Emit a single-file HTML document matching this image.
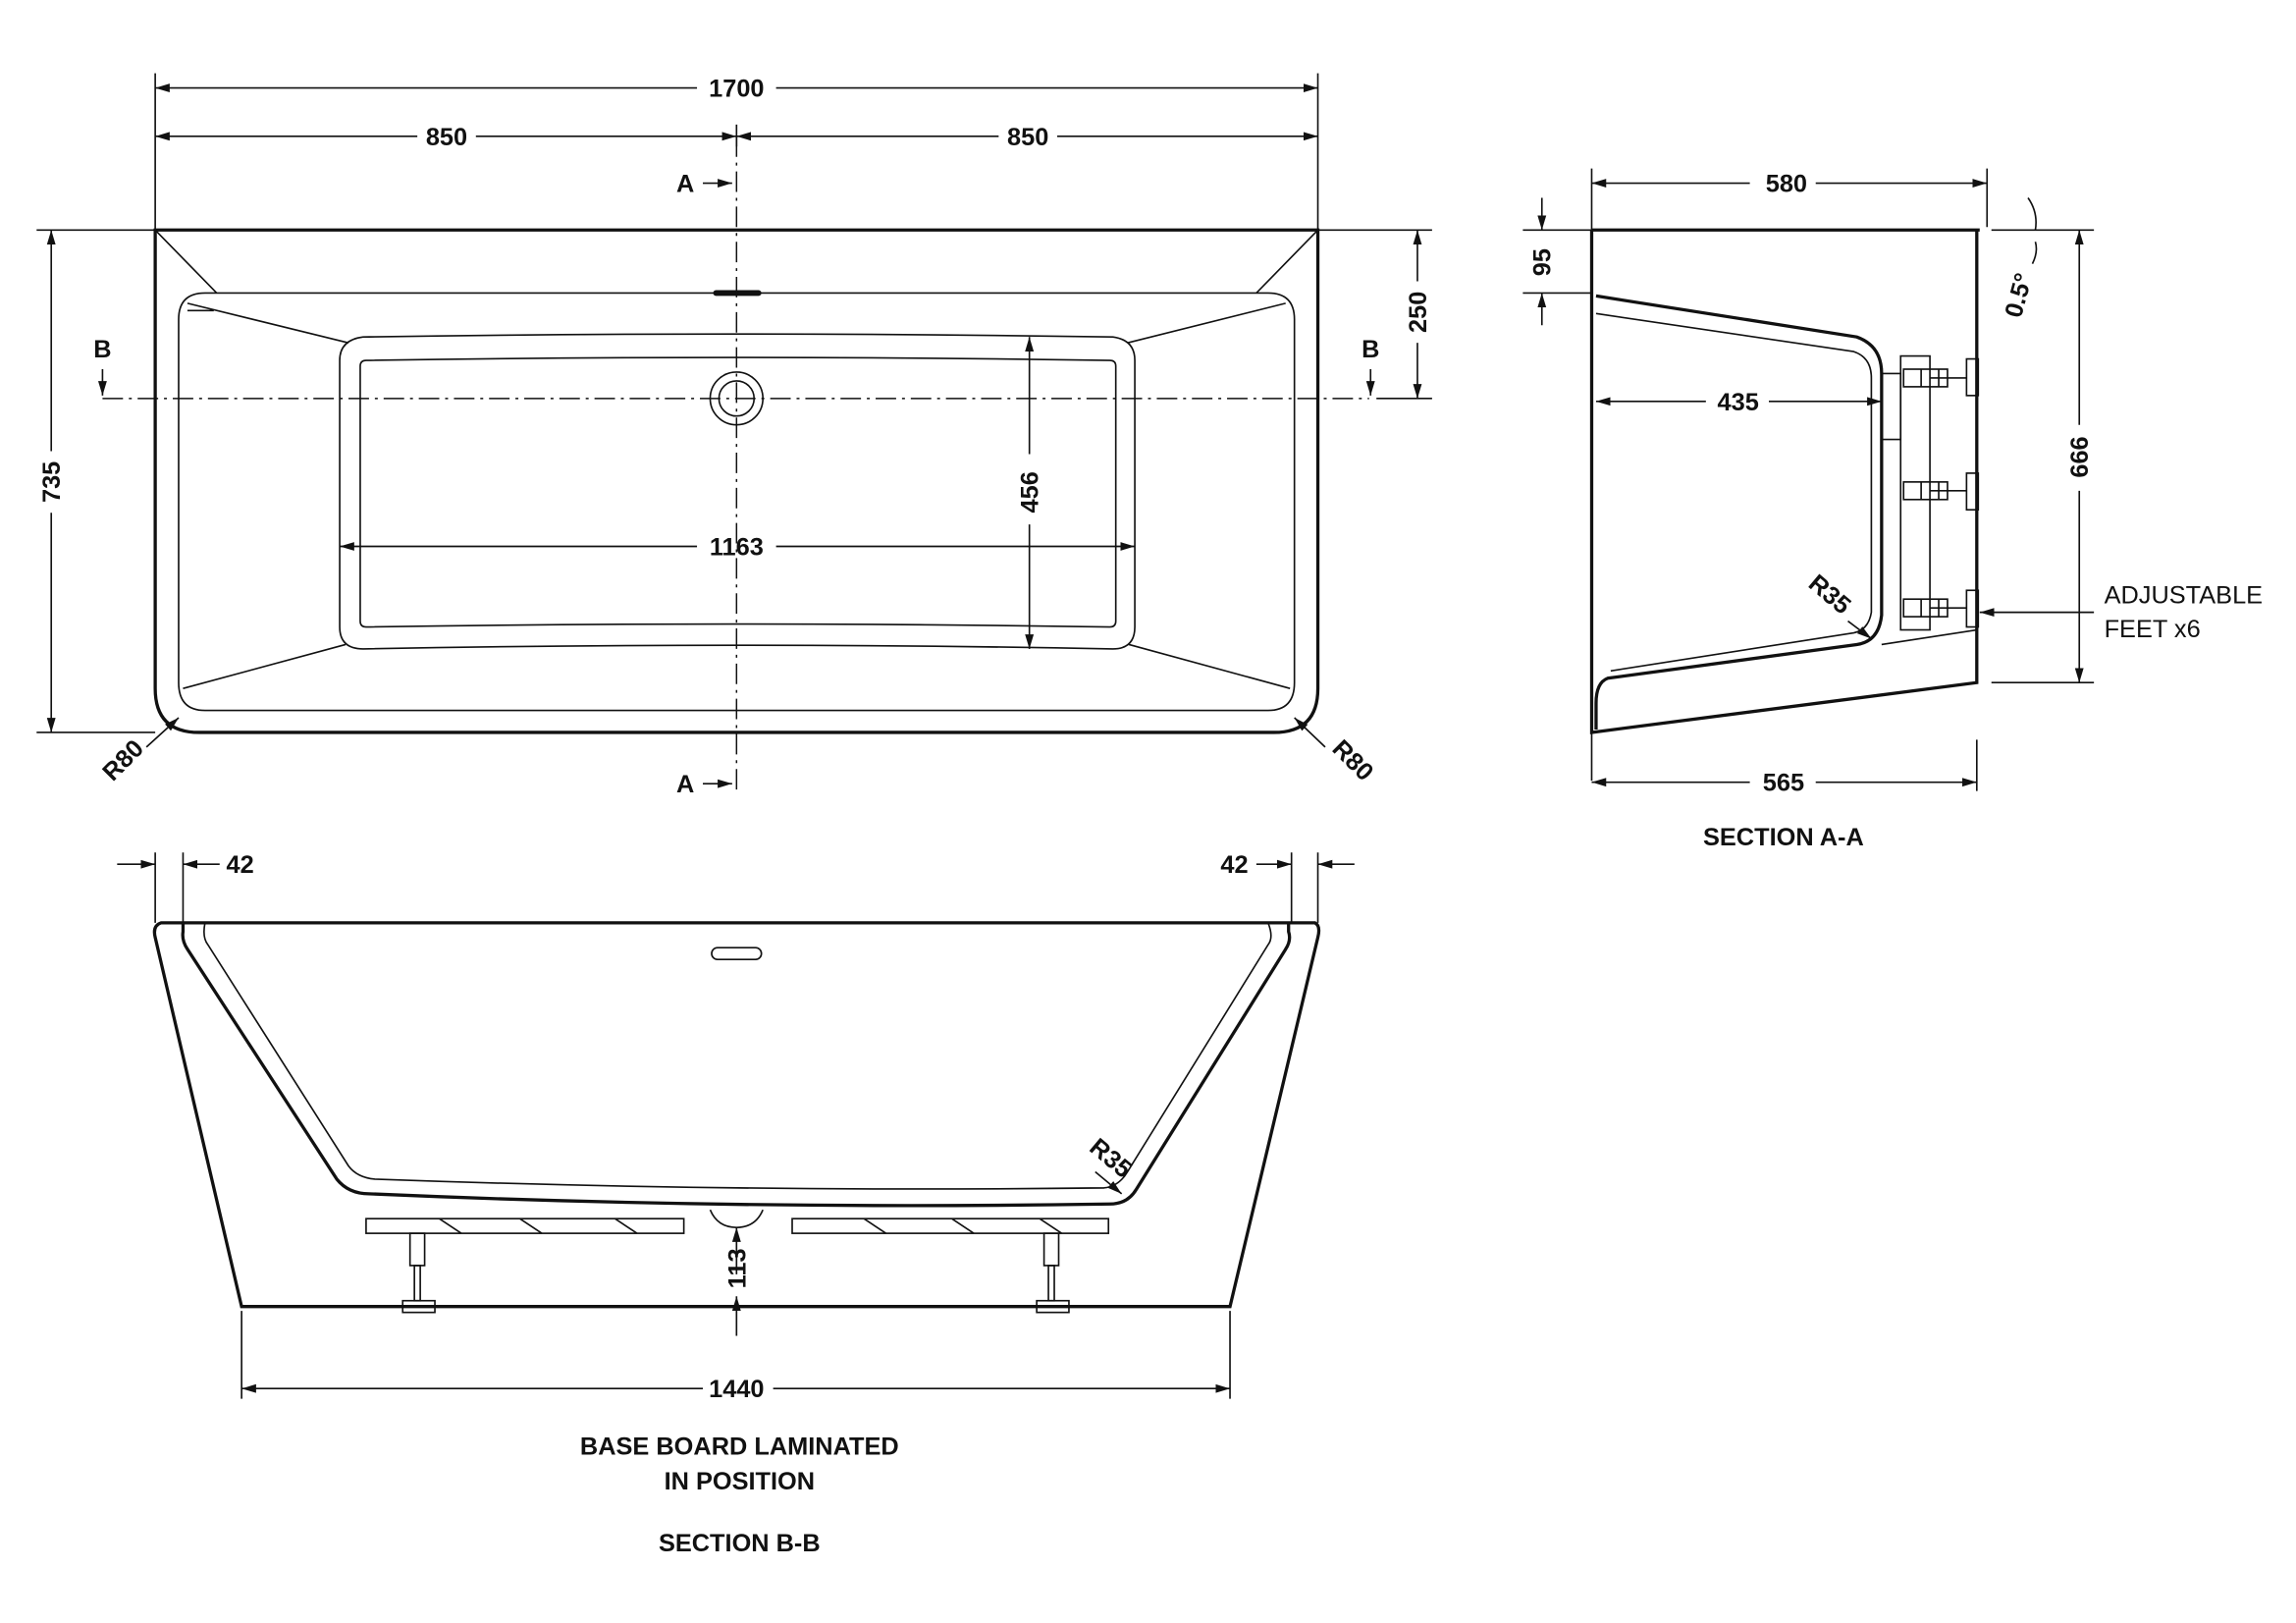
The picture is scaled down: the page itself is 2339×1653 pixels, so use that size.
<!DOCTYPE html>
<html><head><meta charset="utf-8"><style>
html,body{margin:0;padding:0;background:#fff;}
svg{display:block}
text{font-family:"Liberation Sans",sans-serif;font-weight:bold;font-size:17px;fill:#111}
.l{stroke:#111;fill:none;stroke-width:1.1}
.t{stroke:#111;fill:none;stroke-width:2.2}
.c{stroke:#111;fill:none;stroke-width:1;stroke-dasharray:14 4 2 4}
</style></head><body>
<svg width="2339" height="1653" viewBox="0 0 1568 1108" xmlns="http://www.w3.org/2000/svg">
<defs>
<marker id="a" viewBox="0 0 10 10" refX="10" refY="5" markerWidth="9" markerHeight="9" orient="auto-start-reverse"><path d="M0,2 L10,5 L0,8 Z" fill="#111"/></marker>
</defs>
<rect width="1568" height="1108" fill="#fff"/>

<!-- PLAN VIEW -->
<path class="t" d="M106,157 H900 V470 Q900,500 870,500 H136 Q106,500 106,470 Z"/>
<path class="l" d="M140,200 H866 Q884,200 884,218 V466 Q884,485 866,485 H140 Q122,485 122,466 V218 Q122,200 140,200 Z"/>
<path class="l" d="M106,157 L148,200 M900,157 L858,200"/>
<path class="l" d="M248,230 Q503,226 760,230 Q775,232 775,246 V428 Q775,443 760,443 Q503,438 248,443 Q232,443 232,428 V246 Q232,232 248,230 Z"/>
<path class="l" d="M250,246 Q503,242 758,246 Q762,246 762,250 V424 Q762,428 758,428 Q503,424 250,428 Q246,428 246,424 V250 Q246,246 250,246 Z"/>
<path class="l" d="M128,207 L238,234 M878,207 L770,234 M125,470 L236,440 M881,470 L771,440 M128,212 L146,212"/>
<circle class="l" cx="503" cy="272" r="18"/><circle class="l" cx="503" cy="272" r="12"/>
<rect x="487" y="198" width="33" height="4" rx="2" fill="#111"/>
<path class="c" d="M70,272 H935 M503,93 V540"/>
<path class="l" d="M106,50 V157 M900,50 V157 M503,85 V100"/>
<line class="l" x1="106" y1="60" x2="476" y2="60" marker-start="url(#a)"/><line class="l" x1="530" y1="60" x2="900" y2="60" marker-end="url(#a)"/>
<text x="503" y="66" text-anchor="middle">1700</text>
<line class="l" x1="106" y1="93" x2="285" y2="93" marker-start="url(#a)"/><line class="l" x1="325" y1="93" x2="503" y2="93" marker-end="url(#a)"/>
<line class="l" x1="503" y1="93" x2="682" y2="93" marker-start="url(#a)"/><line class="l" x1="722" y1="93" x2="900" y2="93" marker-end="url(#a)"/>
<text x="305" y="99" text-anchor="middle">850</text><text x="702" y="99" text-anchor="middle">850</text>
<path class="l" d="M25,157 H106 M25,500 H106"/>
<line class="l" x1="35" y1="157" x2="35" y2="308" marker-start="url(#a)"/><line class="l" x1="35" y1="350" x2="35" y2="500" marker-end="url(#a)"/>
<text transform="translate(41,329) rotate(-90)" text-anchor="middle">735</text>
<path class="l" d="M900,157 H978 M940,272 H978"/>
<line class="l" x1="968" y1="157" x2="968" y2="192" marker-start="url(#a)"/><line class="l" x1="968" y1="234" x2="968" y2="272" marker-end="url(#a)"/>
<text transform="translate(974,213) rotate(-90)" text-anchor="middle">250</text>
<line class="l" x1="703" y1="230" x2="703" y2="310" marker-start="url(#a)"/><line class="l" x1="703" y1="358" x2="703" y2="443" marker-end="url(#a)"/>
<text transform="translate(709,336) rotate(-90)" text-anchor="middle">456</text>
<line class="l" x1="232" y1="373" x2="476" y2="373" marker-start="url(#a)"/><line class="l" x1="530" y1="373" x2="775" y2="373" marker-end="url(#a)"/>
<text x="503" y="379" text-anchor="middle">1163</text>
<text transform="translate(88,523) rotate(-45)" text-anchor="middle">R80</text>
<line class="l" x1="100" y1="510" x2="122" y2="490" marker-end="url(#a)"/>
<text transform="translate(920,523) rotate(45)" text-anchor="middle">R80</text>
<line class="l" x1="905" y1="510" x2="884" y2="490" marker-end="url(#a)"/>
<text x="468" y="131" text-anchor="middle">A</text><line class="l" x1="480" y1="125" x2="500" y2="125" marker-end="url(#a)"/>
<text x="468" y="541" text-anchor="middle">A</text><line class="l" x1="480" y1="535" x2="500" y2="535" marker-end="url(#a)"/>
<text x="70" y="244" text-anchor="middle">B</text><line class="l" x1="70" y1="252" x2="70" y2="270" marker-end="url(#a)"/>
<text x="936" y="244" text-anchor="middle">B</text><line class="l" x1="936" y1="252" x2="936" y2="270" marker-end="url(#a)"/>

<!-- SECTION A-A -->
<path class="t" d="M1087,157 H1352 M1087,157 V500 L1350,466 V157"/>
<path class="t" d="M1090,202 L1268,230 Q1285,236 1285,255 V420 Q1283,438 1268,440 L1098,463 Q1090,466 1090,480 V498"/>
<path class="l" d="M1090,214 L1266,240 Q1278,244 1278,258 V418 Q1276,430 1266,432 L1100,458"/>
<rect class="l" x="1298" y="243" width="20" height="187"/>
<path class="l" d="M1285,255 H1298 V300 H1285 M1285,440 L1350,430"/>
<g class="l">
<path d="M1318,258 H1343 M1318,335 H1343 M1318,415 H1343 M1312,252 V264 M1312,329 V341 M1312,409 V421 M1324,252 V264 M1324,329 V341 M1324,409 V421"/>
<rect x="1343" y="245" width="8" height="25"/><rect x="1343" y="323" width="8" height="25"/><rect x="1343" y="403" width="8" height="25"/>
<rect x="1300" y="252" width="30" height="12"/><rect x="1300" y="329" width="30" height="12"/><rect x="1300" y="409" width="30" height="12"/>
</g>
<path class="l" d="M1087,115 V157 M1357,115 V155 M1087,533 V500 M1350,505 V540 M1040,157 H1087 M1040,200 H1087 M1360,157 H1430 M1360,466 H1430"/>
<line class="l" x1="1087" y1="125" x2="1195" y2="125" marker-start="url(#a)"/><line class="l" x1="1240" y1="125" x2="1357" y2="125" marker-end="url(#a)"/>
<text x="1220" y="131" text-anchor="middle">580</text>
<line class="l" x1="1053" y1="135" x2="1053" y2="157" marker-end="url(#a)"/><line class="l" x1="1053" y1="222" x2="1053" y2="200" marker-end="url(#a)"/>
<text transform="translate(1059,179) rotate(-90)" text-anchor="middle">95</text>
<line class="l" x1="1090" y1="274" x2="1165" y2="274" marker-start="url(#a)"/><line class="l" x1="1208" y1="274" x2="1285" y2="274" marker-end="url(#a)"/>
<text x="1187" y="280" text-anchor="middle">435</text>
<line class="l" x1="1420" y1="157" x2="1420" y2="290" marker-start="url(#a)"/><line class="l" x1="1420" y1="335" x2="1420" y2="466" marker-end="url(#a)"/>
<text transform="translate(1426,312) rotate(-90)" text-anchor="middle">666</text>
<line class="l" x1="1087" y1="534" x2="1195" y2="534" marker-start="url(#a)"/><line class="l" x1="1240" y1="534" x2="1350" y2="534" marker-end="url(#a)"/>
<text x="1218" y="540" text-anchor="middle">565</text>
<path class="l" d="M1385,135 Q1392,145 1390,157 M1390,165 Q1392,172 1388,180"/>
<text transform="translate(1384,203) rotate(-75)" text-anchor="middle">0.5°</text>
<text transform="translate(1246,410) rotate(40)" text-anchor="middle">R35</text>
<line class="l" x1="1262" y1="424" x2="1278" y2="436" marker-end="url(#a)"/>
<line class="l" x1="1430" y1="418" x2="1352" y2="418" marker-end="url(#a)"/>
<text x="1437" y="412" style="font-weight:normal">ADJUSTABLE</text>
<text x="1437" y="435" style="font-weight:normal">FEET x6</text>
<text x="1218" y="577" text-anchor="middle">SECTION A-A</text>

<!-- SECTION B-B -->
<path class="t" d="M110,630 H898 Q902,632 900,640 L840,892 H165 L106,640 Q104,632 110,630 Z"/>
<path class="t" d="M125,630 V636 Q124,642 128,648 L230,805 Q238,815 252,815 Q503,826 758,822 Q770,822 776,812 L878,648 Q882,642 880,636 V630"/>
<path class="l" d="M140,630 Q138,640 142,645 L238,796 Q244,804 256,805 Q503,814 754,811 Q764,810 770,800 L866,645 Q870,640 866,630"/>
<rect class="l" x="250" y="832" width="217" height="10"/><rect class="l" x="541" y="832" width="216" height="10"/>
<path class="l" d="M300,832 L315,842 M355,832 L370,842 M420,832 L435,842 M590,832 L605,842 M650,832 L665,842 M710,832 L725,842"/>
<path class="l" d="M485,826 Q490,838 503,838 Q516,838 521,826"/>
<rect class="l" x="486" y="647" width="34" height="8" rx="4"/>
<g class="l">
<rect x="280" y="842" width="10" height="22"/><rect x="283" y="864" width="4" height="24"/><rect x="275" y="888" width="22" height="8"/>
<rect x="713" y="842" width="10" height="22"/><rect x="716" y="864" width="4" height="24"/><rect x="708" y="888" width="22" height="8"/>
</g>
<path class="l" d="M106,582 V630 M125,582 V630 M882,582 V630 M900,582 V630 M165,895 V955 M840,895 V955"/>
<line class="l" x1="80" y1="590" x2="106" y2="590" marker-end="url(#a)"/><line class="l" x1="150" y1="590" x2="125" y2="590" marker-end="url(#a)"/>
<text x="164" y="596" text-anchor="middle">42</text>
<line class="l" x1="858" y1="590" x2="882" y2="590" marker-end="url(#a)"/><line class="l" x1="925" y1="590" x2="900" y2="590" marker-end="url(#a)"/>
<text x="843" y="596" text-anchor="middle">42</text>
<line class="l" x1="503" y1="870" x2="503" y2="838" marker-end="url(#a)"/><line class="l" x1="503" y1="885" x2="503" y2="912" marker-start="url(#a)"/>
<text transform="translate(509,866) rotate(-90)" text-anchor="middle">113</text>
<line class="l" x1="165" y1="948" x2="480" y2="948" marker-start="url(#a)"/><line class="l" x1="528" y1="948" x2="840" y2="948" marker-end="url(#a)"/>
<text x="503" y="954" text-anchor="middle">1440</text>
<text transform="translate(755,795) rotate(40)" text-anchor="middle">R35</text>
<line class="l" x1="748" y1="800" x2="766" y2="815" marker-end="url(#a)"/>
<text x="505" y="993" text-anchor="middle">BASE BOARD LAMINATED</text>
<text x="505" y="1017" text-anchor="middle">IN POSITION</text>
<text x="505" y="1059" text-anchor="middle">SECTION B-B</text>
</svg>
</body></html>
